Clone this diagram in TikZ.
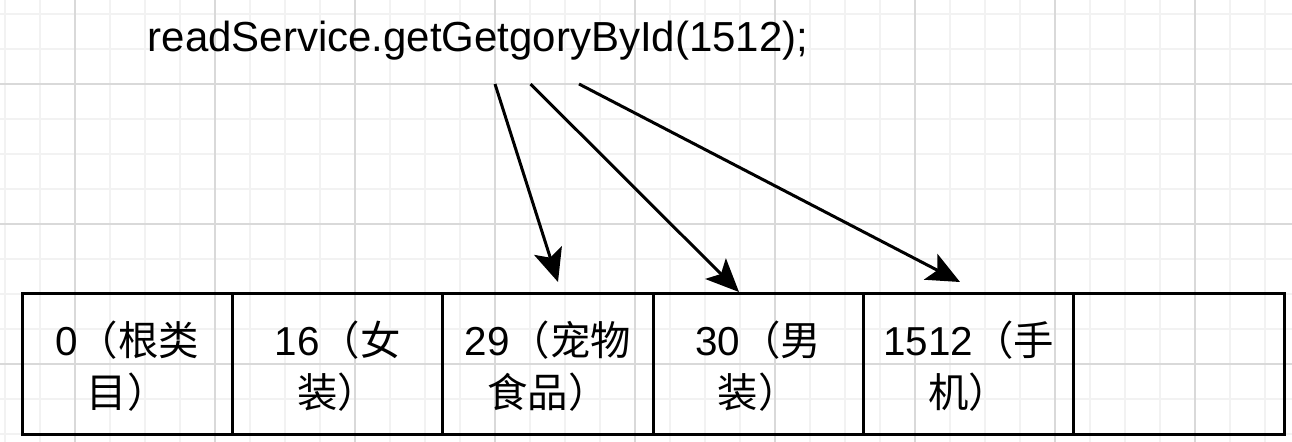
\documentclass[tikz,border=0pt]{standalone}
\usepackage{fontspec}
\setmainfont{Liberation Sans}
\newfontfamily\cjk{Noto Sans CJK SC}
\usepackage{xcolor}
\usepackage{tikz}
\usetikzlibrary{arrows.meta}
\definecolor{gridminor}{HTML}{F2F2F2}
\definecolor{gridmajor}{HTML}{D9D9D9}
\newcommand{\zh}[1]{{\cjk #1}}
\tikzstyle{arrow}    = [line width=0.06cm, -{Stealth[length=0.66cm, width=0.58cm, inset=0.15cm]}]
\tikzstyle{cell}     = [rectangle, draw, line width=0.06cm, minimum width=4.206cm, minimum height=2.82cm, inner sep=0pt, outer sep=0pt]
\tikzstyle{celltext} = [font=\fontsize{23}{29.6}\selectfont]
\tikzset{every node/.style={align=center}}

\begin{document}
\begin{tikzpicture}
    \useasboundingbox (0,0) rectangle (25.84,-8.84);
    % background grid
    \begin{scope}[shift={(0.1,-0.28)}]
        \draw [gridminor, line width=0.03cm, step=0.7cm] (-0.1,-8.56) grid (25.74,0.28);
    \end{scope}
    \begin{scope}[shift={(1.5,-1.68)}]
        \draw [gridmajor, line width=0.03cm, step=2.8cm] (-1.5,-7.16) grid (24.34,1.68);
    \end{scope}

    \node (call) at (9.56,-1.04) [anchor=base, font=\fontsize{23.9}{28}\selectfont, inner sep=0pt] {readService.getGetgoryById(1512);};

    \node (c0)    at (2.545,-7.27)  [cell] {};
    \node (c16)   at (6.755,-7.27)  [cell] {};
    \node (c29)   at (10.96,-7.27)  [cell] {};
    \node (c30)   at (15.165,-7.27) [cell] {};
    \node (c1512) at (19.375,-7.27) [cell] {};
    \node (cnext) at (23.58,-7.27)  [cell] {};

    \node at ([yshift=-0.05cm]c0.center)    [celltext] {0\zh{（根类}\\\zh{目）}};
    \node at ([yshift=-0.05cm]c16.center)   [celltext] {16\zh{（女}\\\zh{装）}};
    \node at ([yshift=-0.05cm]c29.center)   [celltext] {29\zh{（宠物}\\\zh{食品）}};
    \node at ([yshift=-0.05cm]c30.center)   [celltext] {30\zh{（男}\\\zh{装）}};
    \node at ([yshift=-0.05cm]c1512.center) [celltext] {1512\zh{（手}\\\zh{机）}};

    \coordinate (s29)   at (9.90,-1.68);
    \coordinate (s30)   at (10.61,-1.68);
    \coordinate (s1512) at (11.58,-1.68);
    \coordinate (e29)   at (11.16,-5.64);
    \coordinate (e30)   at (14.78,-5.84);
    \coordinate (e1512) at (19.20,-5.64);

    \draw [arrow] (s29)   -- (e29);
    \draw [arrow] (s30)   -- (e30);
    \draw [arrow] (s1512) -- (e1512);
\end{tikzpicture}
\end{document}
